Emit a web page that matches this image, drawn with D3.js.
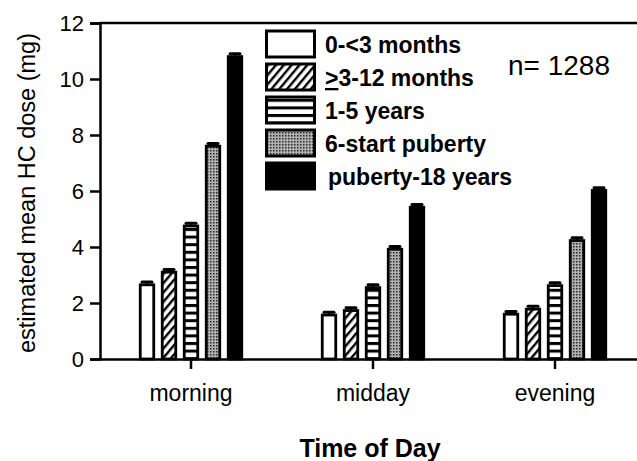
<!DOCTYPE html>
<html>
<head>
<meta charset="utf-8">
<script src="https://cdn.jsdelivr.net/npm/d3@7"></script>
<style>
    body { margin: 0; background: #fff; }
    svg { display: block; font-family: Arial, "Liberation Sans", sans-serif; }
</style>
</head>
<body>
<div id="chart"></div>
<script>
// Grouped bar chart: estimated mean HC dose by time of day and age group.

const times = ["morning", "midday", "evening"];
const groups = ["0-<3 months", ">3-12 months", "1-5 years", "6-start puberty", "puberty-18 years"];
const fills = ["white", "url(#hatch)", "url(#stripes)", "url(#dots)", "black"];

// mean dose per group, one array per time of day
const morning = [2.65, 3.1, 4.75, 7.6, 10.8];
const midday = [1.57, 1.73, 2.55, 3.92, 5.42];
const evening = [1.6, 1.78, 2.62, 4.23, 6.02];
const errors = [0.1, 0.1, 0.1, 0.1, 0.1];

const yTicks = [0, 2, 4, 6, 8, 10, 12];

const width = 637, height = 461;
const margin = { top: 23, left: 100 };
const plotBottom = 359;
const plotRight = 646; // frame runs past the picture edge

const values = [morning, midday, evening];

const svg = d3.select("#chart").append("svg")
    .attr("width", width)
    .attr("height", height);

// Fill patterns
const defs = svg.append("defs");

const hatch = defs.append("pattern")
    .attr("id", "hatch")
    .attr("patternUnits", "userSpaceOnUse")
    .attr("width", 6).attr("height", 6)
    .attr("patternTransform", "rotate(40)");
hatch.append("rect").attr("width", 6).attr("height", 6).attr("fill", "white");
hatch.append("rect").attr("width", 2.4).attr("height", 6).attr("fill", "black");

const stripes = defs.append("pattern")
    .attr("id", "stripes")
    .attr("patternUnits", "userSpaceOnUse")
    .attr("width", 10).attr("height", 7.6);
stripes.append("rect").attr("width", 10).attr("height", 7.6).attr("fill", "white");
stripes.append("rect").attr("width", 10).attr("height", 3).attr("fill", "black");

const dots = defs.append("pattern")
    .attr("id", "dots")
    .attr("patternUnits", "userSpaceOnUse")
    .attr("width", 3).attr("height", 3);
dots.append("rect").attr("width", 3).attr("height", 3).attr("fill", "#b0b0b0");
dots.append("rect").attr("width", 1.5).attr("height", 1.5).attr("fill", "#2a2a2a");

// Scales
const x = d3.scaleBand().domain(times).range([margin.left, plotRight]);
const xs = d3.scaleBand().domain(groups).range([-55, 55])
    .paddingInner(6 / 22).paddingOuter(3 / 22);
const y = d3.scaleLinear().domain([0, 12]).range([plotBottom, margin.top]);

// Top frame line
svg.append("line")
    .attr("x1", margin.left).attr("x2", plotRight)
    .attr("y1", y(12)).attr("y2", y(12))
    .attr("stroke", "black").attr("stroke-width", 2.5);

// Bars
const gBars = svg.append("g");
times.forEach((t, ti) => {
    const cx = x(t) + x.bandwidth() / 2;
    groups.forEach((grp, gi) => {
        const v = values[ti][gi];
        const bx = cx + xs(grp);
        // error bar
        gBars.append("line")
            .attr("x1", bx + xs.bandwidth() / 2).attr("x2", bx + xs.bandwidth() / 2)
            .attr("y1", y(v)).attr("y2", y(v + errors[gi]))
            .attr("stroke", "black").attr("stroke-width", 2);
        gBars.append("line")
            .attr("x1", bx + 3).attr("x2", bx + xs.bandwidth() - 3)
            .attr("y1", y(v + errors[gi])).attr("y2", y(v + errors[gi]))
            .attr("stroke", "black").attr("stroke-width", 3)
            .attr("stroke-linecap", "round");
        gBars.append("rect")
            .attr("x", bx + 1.25)
            .attr("y", y(v))
            .attr("width", xs.bandwidth() - 2.5)
            .attr("height", y(0) - y(v))
            .attr("fill", fills[gi])
            .attr("stroke", "black")
            .attr("stroke-width", 2.8);
    });
});

// Y axis
const yAxis = svg.append("g")
    .attr("transform", `translate(${margin.left},0)`)
    .call(d3.axisLeft(y).tickValues(yTicks).tickSize(10).tickPadding(6));
yAxis.select(".domain").attr("stroke-width", 2.5);
yAxis.selectAll(".tick line").attr("stroke-width", 2.5);
yAxis.selectAll(".tick text")
    .attr("font-size", 22)
    .attr("font-family", "Arial, 'Liberation Sans', sans-serif")
    .attr("fill", "black");

// X axis
const xAxis = svg.append("g")
    .attr("transform", `translate(0,${plotBottom})`)
    .call(d3.axisBottom(x).tickSize(10).tickPadding(16).tickSizeOuter(0));
xAxis.select(".domain").attr("stroke-width", 2.5);
xAxis.selectAll(".tick line").attr("stroke-width", 2.5);
xAxis.selectAll(".tick text")
    .attr("font-size", 23)
    .attr("font-family", "Arial, 'Liberation Sans', sans-serif")
    .attr("fill", "black");

// Axis titles
svg.append("text")
    .attr("transform", `translate(35,${(margin.top + plotBottom) / 2 + 2}) rotate(-90)`)
    .attr("text-anchor", "middle")
    .attr("font-size", 23.5)
    .text("estimated mean HC dose (mg)");

svg.append("text")
    .attr("x", 370)
    .attr("y", 457)
    .attr("text-anchor", "middle")
    .attr("font-size", 25)
    .attr("font-weight", "bold")
    .text("Time of Day");

// Legend
const legend = svg.append("g");
groups.forEach((grp, gi) => {
    const ly = 31 + gi * 33;
    legend.append("rect")
        .attr("x", 266.5).attr("y", ly)
        .attr("width", 48).attr("height", 26)
        .attr("fill", fills[gi])
        .attr("stroke", "black").attr("stroke-width", 3);
    const t = legend.append("text")
        .attr("x", gi === 4 ? 328 : 325)
        .attr("y", ly + 22)
        .attr("font-size", 23)
        .attr("font-weight", "bold");
    if (grp.startsWith(">")) {
        t.append("tspan").attr("text-decoration", "underline").text(">");
        t.append("tspan").text(grp.slice(1));
    } else {
        t.text(grp);
    }
});

svg.append("text")
    .attr("x", 508)
    .attr("y", 75)
    .attr("font-size", 28)
    .text("n= 1288");
</script>
</body>
</html>
